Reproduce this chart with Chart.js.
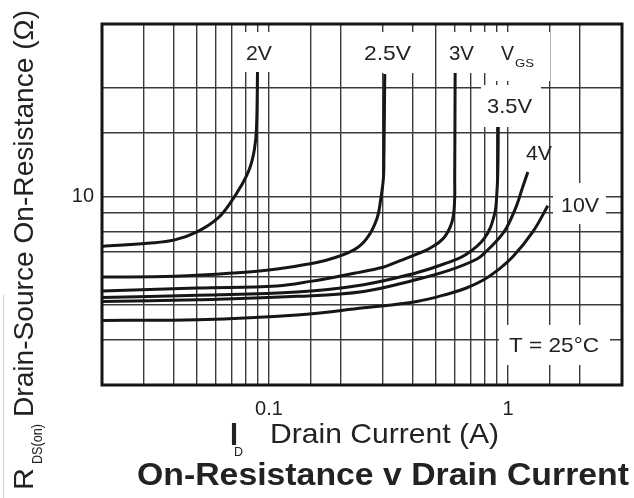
<!DOCTYPE html>
<html><head><meta charset="utf-8">
<script src="https://cdn.jsdelivr.net/npm/chart.js@4/dist/chart.umd.min.js"></script>
<style>html,body{margin:0;padding:0;background:#fff;overflow:hidden}canvas{display:block}</style>
</head><body>
<canvas id="c" width="634" height="498"></canvas>
<script>
// ---- data ----
const seriesNames = ['2V', '2.5V', '3V', '3.5V', '4V', '10V'];
const id_2V   = [0.02, 0.0311, 0.0403, 0.0502, 0.0609, 0.069, 0.0759, 0.0828, 0.0869, 0.0886, 0.0895];
const rds_2V  = [7.26, 7.41, 7.57, 7.98, 8.68, 9.6, 10.6, 11.9, 13.5, 15.4, 22.1];
const id_2V5  = [0.02, 0.0403, 0.0738, 0.108, 0.1275, 0.175, 0.2267, 0.257, 0.283, 0.2937, 0.301, 0.3025, 0.305];
const rds_2V5 = [5.97, 6.0, 6.14, 6.29, 6.39, 6.66, 7.10, 7.65, 8.68, 9.86, 11.19, 12.7, 21.8];
const id_3V   = [0.02, 0.05, 0.108, 0.149, 0.227, 0.3, 0.342, 0.415, 0.471, 0.537, 0.582, 0.597, 0.5985, 0.601];
const rds_3V  = [5.46, 5.57, 5.64, 5.81, 6.12, 6.36, 6.57, 6.91, 7.18, 7.65, 8.46, 9.55, 11.2, 22.2];
const id_3V5  = [0.02, 0.0502, 0.131, 0.249, 0.415, 0.539, 0.67, 0.797, 0.876, 0.898, 0.907, 0.911];
const rds_3V5 = [5.24, 5.32, 5.43, 5.69, 6.14, 6.49, 6.91, 7.65, 8.85, 10.17, 11.92, 15.56];
const id_4V   = [0.02, 0.0502, 0.131, 0.249, 0.415, 0.57, 0.738, 0.812, 0.917, 0.984, 1.083, 1.147, 1.211];
const rds_4V  = [5.11, 5.17, 5.28, 5.45, 5.88, 6.24, 6.69, 7.04, 7.65, 8.15, 9.37, 10.5, 11.67];
const id_10V  = [0.02, 0.0502, 0.131, 0.249, 0.415, 0.57, 0.67, 0.789, 0.894, 1.052, 1.272, 1.468];
const rds_10V = [4.53, 4.55, 4.69, 4.91, 5.11, 5.38, 5.57, 5.86, 6.20, 6.82, 7.98, 9.41];
const xTickLabels = ['0.1', '1'];
const yTickLabels = ['10'];
const xRange = [0.02, 3];
const yRange = [3, 30];

const seriesX = [id_2V, id_2V5, id_3V, id_3V5, id_4V, id_10V];
const seriesY = [rds_2V, rds_2V5, rds_3V, rds_3V5, rds_4V, rds_10V];

// ---- annotation layout (pixels) ----
const FONT = '"Liberation Sans", Arial, sans-serif';
const boxes = [
  [243, 32, 277, 72], [356, 32, 424, 73], [444, 32, 486, 73], [492, 32, 550, 81],
  [481, 85, 541, 127], [553, 183, 606, 224], [499, 325, 610, 365]
];
const curveLabels = [
  {t: '2V', cx: 259, y: 60, w: 26}, {t: '2.5V', cx: 387.5, y: 60, w: 47},
  {t: '3V', cx: 461.5, y: 60, w: 25}, {t: '3.5V', cx: 509.5, y: 113, w: 45},
  {t: '4V', cx: 539, y: 160, w: 26}, {t: '10V', cx: 580, y: 212, w: 38},
  {t: 'T = 25°C', cx: 554, y: 352, w: 90}
];

function fitText(ctx, text, x, y, width, align) {
  const m = ctx.measureText(text).width;
  const s = width / m;
  ctx.save();
  ctx.translate(x, y);
  ctx.scale(s, 1);
  ctx.textAlign = align || 'left';
  ctx.fillText(text, 0, 0);
  ctx.restore();
}

const decor = {
  id: 'decor',
  afterDatasetsDraw(chart) {
    const ctx = chart.ctx, a = chart.chartArea;
    ctx.save();
    ctx.fillStyle = '#fff';
    boxes.forEach(b => ctx.fillRect(b[0], b[1], b[2] - b[0], b[3] - b[1]));
    ctx.strokeStyle = '#151515';
    ctx.lineWidth = 3;
    ctx.strokeRect(a.left, a.top, a.right - a.left, a.bottom - a.top);
    ctx.fillStyle = '#222';
    ctx.textBaseline = 'alphabetic';
    ctx.font = '21px ' + FONT;
    curveLabels.forEach(l => fitText(ctx, l.t, l.cx, l.y, l.w, 'center'));
    // V_GS
    ctx.font = '21px ' + FONT;
    fitText(ctx, 'V', 501, 60, 13, 'left');
    ctx.font = '11px ' + FONT;
    fitText(ctx, 'GS', 515, 67, 19, 'left');
    // x title
    ctx.font = 'bold 31px ' + FONT;
    fitText(ctx, 'I', 230, 445, 8, 'left');
    ctx.font = '13px ' + FONT;
    fitText(ctx, 'D', 234, 456, 9, 'left');
    ctx.font = '28px ' + FONT;
    fitText(ctx, 'Drain Current (A)', 270, 443, 229, 'left');
    // chart title
    ctx.font = 'bold 31px ' + FONT;
    fitText(ctx, 'On-Resistance v Drain Current', 137, 485, 492, 'left');
    // y title
    ctx.save();
    ctx.translate(33, 490);
    ctx.rotate(-Math.PI / 2);
    ctx.font = '28px ' + FONT;
    fitText(ctx, 'R', 0, 0, 22, 'left');
    ctx.font = '14px ' + FONT;
    fitText(ctx, 'DS(on)', 26, 9, 40, 'left');
    ctx.font = '28px ' + FONT;
    fitText(ctx, 'Drain-Source On-Resistance (Ω)', 73, 0, 407, 'left');
    ctx.restore();
    // faint edge line
    ctx.strokeStyle = '#d0d0d0';
    ctx.lineWidth = 1;
    ctx.beginPath(); ctx.moveTo(3.5, 295); ctx.lineTo(3.5, 498); ctx.stroke();
    ctx.restore();
  }
};

const near = (v, s) => Math.abs(v - Number(s)) < 1e-9 * Math.max(1, Number(s));

new Chart(document.getElementById('c'), {
  type: 'scatter',
  data: {
    datasets: seriesNames.map((n, i) => ({
      label: n,
      data: seriesX[i].map((x, j) => ({x: x, y: seriesY[i][j]})),
      showLine: true,
      borderColor: '#161616',
      borderWidth: 3,
      pointRadius: 0,
      tension: 0.4,
      borderCapStyle: 'butt',
      fill: false
    }))
  },
  options: {
    responsive: false,
    animation: false,
    devicePixelRatio: 1,
    layout: {padding: {left: 0, top: 24, right: 7, bottom: 0}},
    plugins: {legend: {display: false}, tooltip: {enabled: false}, title: {display: false}},
    scales: {
      x: {
        type: 'logarithmic', min: xRange[0], max: xRange[1],
        grid: {color: '#3a3a3a', lineWidth: 1.4, drawTicks: false},
        border: {display: false},
        ticks: {
          autoSkip: false, maxRotation: 0, padding: 12, color: '#222',
          font: {size: 20, family: FONT},
          callback: v => { const l = xTickLabels.find(s => near(v, s)); return l || ''; }
        },
        afterFit: s => { s.height = 113; }
      },
      y: {
        type: 'logarithmic', min: yRange[0], max: yRange[1],
        grid: {color: '#3a3a3a', lineWidth: 1.4, drawTicks: false},
        border: {display: false},
        ticks: {
          autoSkip: false, padding: 8, color: '#222',
          font: {size: 20, family: FONT},
          callback: v => { const l = yTickLabels.find(s => near(v, s)); return l || ''; }
        },
        afterFit: s => { s.width = 102; }
      }
    }
  },
  plugins: [decor]
});
</script>
</body></html>
